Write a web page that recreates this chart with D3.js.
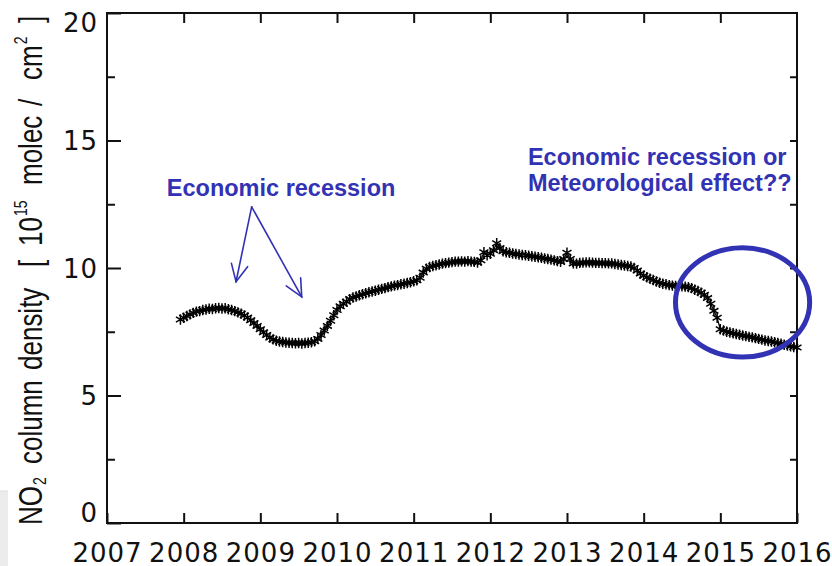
<!DOCTYPE html>
<html>
<head>
<meta charset="utf-8">
<script src="https://cdn.jsdelivr.net/npm/d3@7"></script>
<style>
  html, body { margin: 0; padding: 0; background: #fff; }
  svg { display: block; }
  .tick text { font-family: "DejaVu Sans", sans-serif; font-size: 26px; fill: #111; letter-spacing: 1px; }
</style>
</head>
<body>
<svg id="chart" width="832" height="566"></svg>
<script>
// Running-mean NO2 column density, half-monthly samples starting late 2007
const startYear = 2007.958;
const stepYears = 1 / 24;
const no2Values = [
  7.98, 8.05, 8.12, 8.18, 8.24, 8.29, 8.31, 8.35, 8.37, 8.40,
  8.39, 8.42, 8.43, 8.41, 8.42, 8.38, 8.35, 8.31, 8.26, 8.21,
  8.14, 8.06, 7.95, 7.84, 7.73, 7.60, 7.48, 7.37, 7.27, 7.20,
  7.15, 7.12, 7.10, 7.08, 7.07, 7.06, 7.05, 7.06, 7.04, 7.06,
  7.07, 7.09, 7.13, 7.22, 7.37, 7.55, 7.73, 7.93, 8.15, 8.35,
  8.50, 8.60, 8.68, 8.78, 8.84, 8.88, 8.93, 8.97, 9.01, 9.05,
  9.08, 9.11, 9.15, 9.18, 9.21, 9.25, 9.28, 9.31, 9.33, 9.36,
  9.38, 9.41, 9.44, 9.48, 9.52, 9.62, 9.82, 9.97, 10.04, 10.08,
  10.11, 10.14, 10.17, 10.19, 10.21, 10.23, 10.25, 10.25, 10.26, 10.25,
  10.27, 10.25, 10.24, 10.21, 10.30, 10.62, 10.50, 10.56, 10.70, 10.97,
  10.78, 10.66, 10.62, 10.60, 10.57, 10.55, 10.53, 10.51, 10.50, 10.48,
  10.46, 10.44, 10.42, 10.40, 10.37, 10.35, 10.33, 10.30, 10.27, 10.24,
  10.35, 10.60, 10.35, 10.18, 10.17, 10.20, 10.21, 10.22, 10.22, 10.21,
  10.20, 10.20, 10.19, 10.19, 10.18, 10.18, 10.16, 10.14, 10.12, 10.10,
  10.08, 10.06, 10.00, 9.90, 9.78, 9.70, 9.64, 9.58, 9.53, 9.47,
  9.42, 9.38, 9.36, 9.33, 9.31, 9.30, 9.29, 9.28, 9.27, 9.25,
  9.21, 9.15, 9.10, 9.03, 8.95, 8.82, 8.60, 8.32, 8.05, 7.60,
  7.55, 7.50, 7.47, 7.44, 7.41, 7.38, 7.35, 7.33, 7.30, 7.28,
  7.25, 7.22, 7.19, 7.16, 7.14, 7.12, 7.09, 7.06, 7.03, 6.99,
  6.96, 6.93, 6.90, 6.88
];

const xTicks = [2007, 2008, 2009, 2010, 2011, 2012, 2013, 2014, 2015, 2016];
const yMajorTicks = [0, 5, 10, 15, 20];
const yMinorTicks = [2.5, 7.5, 12.5, 17.5];
const yRightTicks = [2.5, 5, 7.5, 10, 12.5, 15, 17.5];

const recessionLabel = "Economic recession";
const questionLines = ["Economic recession or", "Meteorological effect??"];

// Axis title pieces; sub/sup mark subscript and superscript runs
const yTitleParts = [
  { text: "NO", kind: "normal", start: 525 },
  { text: "2", kind: "sub" },
  { text: "column", kind: "normal", start: 464 },
  { text: "density", kind: "normal", start: 370 },
  { text: "[", kind: "normal", start: 267 },
  { text: "10", kind: "normal", start: 246 },
  { text: "15", kind: "sup" },
  { text: "molec", kind: "normal", start: 185 },
  { text: "/", kind: "normal", start: 106 },
  { text: "cm", kind: "normal", start: 80 },
  { text: "2", kind: "sup" },
  { text: "]", kind: "normal", start: 23 }
];

// Annotation anchors in data units (year, NO2 value)
const arrowApex = [2008.887, 12.40];
const arrowTips = [[2008.683, 9.46], [2009.54, 8.87]];
const recessionLabelPos = [2007.78, 12.82];
const questionLabelPos = [2012.49, 14.04];
const questionLineStep = 1.02;
const ringCenter = [2015.29, 8.65];
const ringRadii = [0.875, 2.14];

const svg = d3.select("#chart");
const plotLeft = 107, plotRight = 797, plotTop = 13, plotBottom = 523;

const x = d3.scaleLinear().domain([2007, 2016]).range([plotLeft, plotRight]);
const y = d3.scaleLinear().domain([0, 20]).range([plotBottom, plotTop]);

const data = no2Values.map((v, i) => ({ t: startYear + i * stepYears, v }));

// Light grey panel edge at lower left
svg.append("rect")
  .attr("x", 0).attr("y", 491).attr("width", 8).attr("height", 75)
  .attr("fill", "#ececec");
svg.append("line")
  .attr("x1", 0).attr("x2", 8).attr("y1", 491).attr("y2", 491)
  .attr("stroke", "#dcdcdc").attr("stroke-width", 1);

// Axes
const axisLeftG = svg.append("g")
  .attr("transform", `translate(${plotLeft},0)`)
  .call(d3.axisLeft(y).tickValues(yMajorTicks).tickFormat(d3.format("d"))
    .tickSizeInner(-14).tickSizeOuter(0).tickPadding(9));
axisLeftG.selectAll(".tick text")
  .attr("dy", d => d === 0 ? "-0.05em" : d === 20 ? "0.7em" : "0.35em");

svg.append("g")
  .attr("transform", `translate(${plotLeft},0)`)
  .call(d3.axisLeft(y).tickValues(yMinorTicks).tickFormat("")
    .tickSizeInner(-8).tickSizeOuter(0));

svg.append("g")
  .attr("transform", `translate(${plotRight},0)`)
  .call(d3.axisRight(y).tickValues(yRightTicks).tickFormat("")
    .tickSizeInner(-7).tickSizeOuter(0));

svg.append("g")
  .attr("transform", `translate(0,${plotBottom})`)
  .call(d3.axisBottom(x).tickValues(xTicks).tickFormat(d3.format("d"))
    .tickSizeInner(-10).tickSizeOuter(0).tickPadding(21));

svg.append("g")
  .attr("transform", `translate(0,${plotTop})`)
  .call(d3.axisTop(x).tickValues(xTicks.slice(1, -1)).tickFormat("")
    .tickSizeInner(-10).tickSizeOuter(0));

svg.selectAll(".domain").remove();
svg.selectAll(".tick line").attr("stroke", "#111").attr("stroke-width", 2);

// Plot frame
svg.append("rect")
  .attr("x", plotLeft).attr("y", plotTop)
  .attr("width", plotRight - plotLeft).attr("height", plotBottom - plotTop)
  .attr("fill", "none").attr("stroke", "#111").attr("stroke-width", 2);

// Y-axis title, letters drawn tall across the rotated baseline
const yTitle = svg.append("text")
  .attr("transform", "translate(42,0) rotate(-90) scale(1,1.26)")
  .attr("font-family", "Liberation Sans, Arial, sans-serif")
  .attr("font-size", 26)
  .attr("fill", "#111");
yTitleParts.forEach(p => {
  const ts = yTitle.append("tspan").text(p.text);
  if (p.start !== undefined) ts.attr("x", -p.start).attr("y", 0);
  if (p.kind === "sub") ts.attr("font-size", 14).attr("dx", 1).attr("y", 3);
  if (p.kind === "sup") ts.attr("font-size", 14).attr("dx", 1).attr("y", -12);
});

// Series: thin connecting line with asterisk markers
const line = d3.line().x(d => x(d.t)).y(d => y(d.v));
svg.append("path")
  .datum(data)
  .attr("d", line)
  .attr("fill", "none")
  .attr("stroke", "#000")
  .attr("stroke-width", 1.2);

const star = d3.symbol().type(d3.symbolAsterisk).size(76);
svg.append("g")
  .selectAll("path")
  .data(data)
  .join("path")
  .attr("transform", d => `translate(${x(d.t)},${y(d.v)})`)
  .attr("d", star)
  .attr("fill", "none")
  .attr("stroke", "#000")
  .attr("stroke-width", 1.5);

// Annotations
const blue = "#3232b4";

svg.append("text")
  .attr("x", x(recessionLabelPos[0])).attr("y", y(recessionLabelPos[1]))
  .attr("font-family", "Liberation Sans, Arial, sans-serif")
  .attr("font-weight", "bold").attr("font-size", 23.5)
  .attr("fill", blue)
  .text(recessionLabel);

const ann = svg.append("g").attr("stroke", blue).attr("stroke-width", 1.6)
  .attr("fill", "none").attr("stroke-linecap", "round");
const ax = x(arrowApex[0]), ay = y(arrowApex[1]);
arrowTips.forEach(([tx, tv]) => {
  const px = x(tx), py = y(tv);
  ann.append("line").attr("x1", ax).attr("y1", ay).attr("x2", px).attr("y2", py);
  const ang = Math.atan2(py - ay, px - ax);
  const len = 19, spread = 0.45;
  const p1 = [px - len * Math.cos(ang - spread), py - len * Math.sin(ang - spread)];
  const p2 = [px - len * Math.cos(ang + spread), py - len * Math.sin(ang + spread)];
  ann.append("path").attr("d", `M${p1[0]},${p1[1]}L${px},${py}L${p2[0]},${p2[1]}`);
});

const qx = x(questionLabelPos[0]);
svg.append("g").selectAll("text")
  .data(questionLines)
  .join("text")
  .attr("x", qx)
  .attr("y", (d, i) => y(questionLabelPos[1] - i * questionLineStep))
  .attr("font-family", "Liberation Sans, Arial, sans-serif")
  .attr("font-weight", "bold").attr("font-size", 23.5)
  .attr("fill", blue)
  .text(d => d);

svg.append("ellipse")
  .attr("cx", x(ringCenter[0])).attr("cy", y(ringCenter[1]))
  .attr("rx", x(2007 + ringRadii[0]) - x(2007))
  .attr("ry", y(0) - y(ringRadii[1]))
  .attr("fill", "none").attr("stroke", blue).attr("stroke-width", 5);
</script>
</body>
</html>
